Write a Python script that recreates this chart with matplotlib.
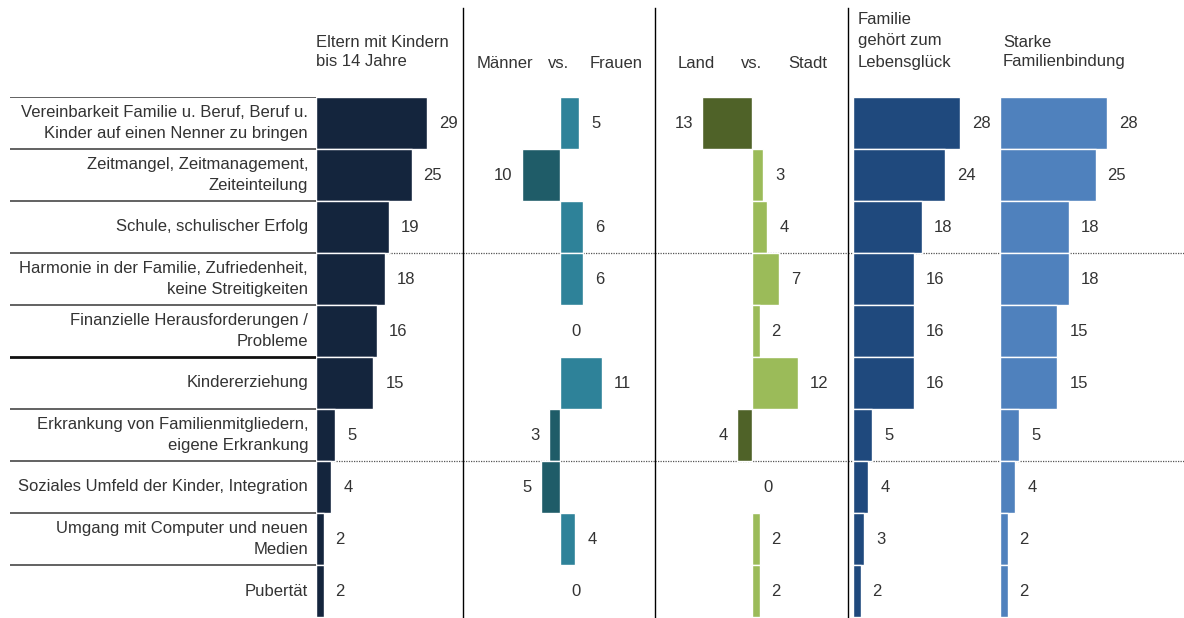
import matplotlib.pyplot as plt
from matplotlib.lines import Line2D
import numpy as np

plt.rcParams['font.family'] = ['Liberation Sans', 'DejaVu Sans']
plt.rcParams['font.size'] = 12

labels = [
    "Vereinbarkeit Familie u. Beruf, Beruf u.\nKinder auf einen Nenner zu bringen",
    "Zeitmangel, Zeitmanagement,\nZeiteinteilung",
    "Schule, schulischer Erfolg",
    "Harmonie in der Familie, Zufriedenheit,\nkeine Streitigkeiten",
    "Finanzielle Herausforderungen /\nProbleme",
    "Kindererziehung",
    "Erkrankung von Familienmitgliedern,\neigene Erkrankung",
    "Soziales Umfeld der Kinder, Integration",
    "Umgang mit Computer und neuen\nMedien",
    "Pubertät",
]

eltern = [29, 25, 19, 18, 16, 15, 5, 4, 2, 2]
# positive = Frauen, negative = Männer
maenner_frauen = [5, -10, 6, 6, 0, 11, -3, -5, 4, 0]
# positive = Stadt, negative = Land
land_stadt = [-13, 3, 4, 7, 2, 12, -4, 0, 2, 2]
lebensglueck = [28, 24, 18, 16, 16, 16, 5, 4, 3, 2]
familienbindung = [28, 25, 18, 18, 15, 15, 5, 4, 2, 2]

W, H = 1184, 618
TOP, BOTTOM = 97, 617
PX_PER_UNIT = 3.83
TEXT = '#333333'

fig = plt.figure(figsize=(W / 100, H / 100), dpi=100)


def fx(px):
    return px / W


def fy(py):
    return 1 - py / H


n = len(labels)
ypos = np.arange(n) + 0.5


def panel(left, right, zero, values, pos_color, neg_color=None):
    ax = fig.add_axes([fx(left), fy(BOTTOM), fx(right - left), (BOTTOM - TOP) / H])
    ax.set_xlim(-(zero - left) / PX_PER_UNIT, (right - zero) / PX_PER_UNIT)
    ax.set_ylim(n, 0)
    ax.axis('off')
    for b in (3, 7):
        ax.axhline(b, color='#555555', lw=0.9, ls=(0, (1, 1)), zorder=0)
    vals = np.array(values)
    colors = [pos_color if v >= 0 else neg_color for v in vals]
    ax.barh(ypos, vals, height=1.0, color=colors, edgecolor='white', lw=1.0, zorder=2)
    for y, v in zip(ypos, vals):
        if v >= 0:
            ax.text(v + 3.1, y, str(abs(v)), ha='left', va='center', color=TEXT)
        else:
            ax.text(v - 2.4, y, str(abs(v)), ha='right', va='center', color=TEXT)
    return ax


panel(316, 463, 316, eltern, '#14253d')
panel(463, 655, 560, maenner_frauen, '#2e8299', '#1f5c68')
panel(655, 848, 752, land_stadt, '#9bbb59', '#4f6228')
panel(848, 995, 853, lebensglueck, '#1f497d')
panel(995, 1184, 1000, familienbindung, '#4f81bd')

# row labels with separators
lab = fig.add_axes([fx(10), fy(BOTTOM), fx(306), (BOTTOM - TOP) / H])
lab.set_xlim(0, 1)
lab.set_ylim(n, 0)
lab.axis('off')
for b in range(n):
    if b == 5:
        lab.axhline(b, color='#111111', lw=2.0)
    else:
        lab.axhline(b, color='#555555', lw=1.3)
for y, t in zip(ypos, labels):
    lab.text(0.974, y, t, ha='right', va='center', color=TEXT, linespacing=1.45)

# vertical dividers
for x in (463, 655, 848):
    fig.add_artist(Line2D([fx(x), fx(x)], [fy(8), fy(BOTTOM)], color='black', lw=1.0,
                          transform=fig.transFigure))

# column headers
fig.text(fx(316), fy(52), "Eltern mit Kindern\nbis 14 Jahre", ha='left', va='center',
         color=TEXT, linespacing=1.4)
for x, t in [(477, "Männer"), (548, "vs."), (590, "Frauen"),
             (678, "Land"), (741, "vs."), (788, "Stadt")]:
    fig.text(fx(x), fy(63), t, ha='left', va='center', color=TEXT)
fig.text(fx(858), fy(41), "Familie\ngehört zum\nLebensglück", ha='left', va='center',
         color=TEXT, linespacing=1.5)
fig.text(fx(1003), fy(52), "Starke\nFamilienbindung", ha='left', va='center',
         color=TEXT, linespacing=1.4)

fig.savefig('out.png', dpi=100)
